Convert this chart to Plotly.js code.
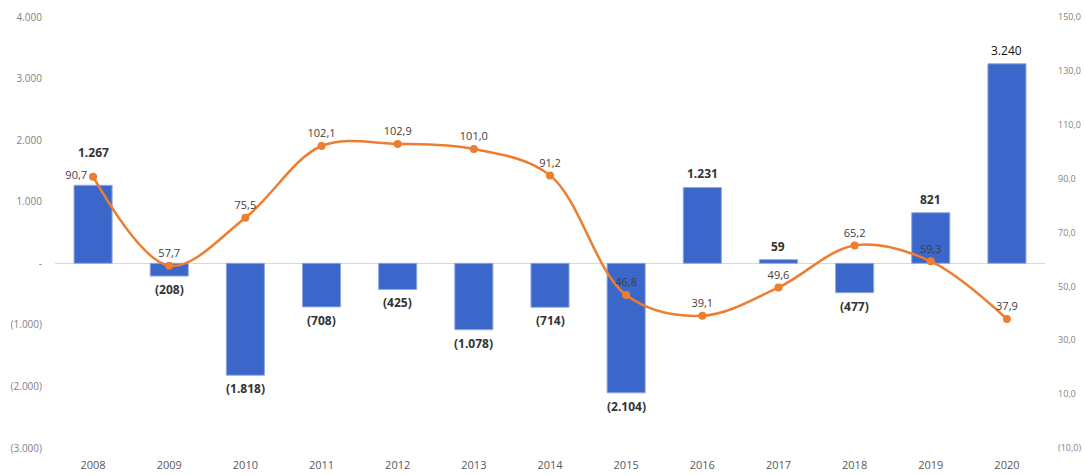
<!DOCTYPE html>
<html><head><meta charset="utf-8">
<script src="https://cdn.plot.ly/plotly-3.0.1.min.js"></script>
<style>html,body{margin:0;padding:0;background:#fff}#chart{width:1085px;height:475px}</style>
</head><body><div id="chart"></div>
<script>
const years = ['2008','2009','2010','2011','2012','2013','2014','2015','2016','2017','2018','2019','2020'];
const barValues = [1267, -208, -1818, -708, -425, -1078, -714, -2104, 1231, 59, -477, 821, 3240];
const lineValues = [90.7, 57.7, 75.5, 102.1, 102.9, 101.0, 91.2, 46.8, 39.1, 49.6, 65.2, 59.3, 37.9];
const leftTicks = [-3000, -2000, -1000, 0, 1000, 2000, 3000, 4000];
const leftTickText = ['(3.000)', '(2.000)', '(1.000)', '-', '1.000', '2.000', '3.000', '4.000'];
const rightTicks = [-10, 10, 30, 50, 70, 90, 110, 130, 150];
const rightTickText = ['(10,0)', '10,0', '30,0', '50,0', '70,0', '90,0', '110,0', '130,0', '150,0'];

function fmtBar(v){
  const s = Math.abs(v).toString().replace(/\B(?=(\d{3})+(?!\d))/g, '.');
  return v < 0 ? '(' + s + ')' : s;
}
const lineText = lineValues.map(v => v.toFixed(1).replace('.', ','));
const linePos = lineValues.map((v,i) => i === 0 ? 'middle left' : 'top center');

const barAnnotations = barValues.map((v,i) => ({
  x: i, y: v, xref: 'x', yref: 'y',
  text: i === barValues.length-1 ? fmtBar(v) : '<b>' + fmtBar(v) + '</b>',
  showarrow: false,
  yanchor: v >= 0 ? 'bottom' : 'top',
  yshift: v >= 0 ? (i === 0 ? 22 : 3) : -3,
  font: {family: 'Open Sans, Arial', size: 12, color: i === barValues.length-1 ? '#111' : '#333'}
}));

const traces = [
  {
    type: 'bar', x: years, y: barValues, yaxis: 'y',
    marker: {color: '#3a67c9', line: {color: '#8fa9e0', width: 1}},
    hoverinfo: 'skip'
  },
  {
    type: 'scatter', mode: 'lines+markers+text', x: years, y: lineValues, yaxis: 'y2',
    line: {color: '#ED7D31', width: 2.5, shape: 'spline', smoothing: 1},
    marker: {color: '#ED7D31', size: 8},
    text: lineText, textposition: linePos, cliponaxis: false,
    textfont: {family: 'Open Sans, Arial', size: 11, color: '#404040'},
    hoverinfo: 'skip'
  }
];

const layout = {
  width: 1085, height: 475,
  margin: {l: 55, r: 40, t: 17, b: 27, autoexpand: false},
  paper_bgcolor: '#fff', plot_bgcolor: '#fff',
  showlegend: false,
  bargap: 0.5,
  font: {family: 'Open Sans, Arial', color: '#7f7f7f'},
  annotations: barAnnotations,
  xaxis: {
    type: 'category', range: [-0.5, years.length - 0.5],
    showgrid: false, zeroline: false, showline: false, ticks: '',
    tickfont: {size: 11, color: '#595959'}, ticklabelstandoff: 9, automargin: false
  },
  yaxis: {
    range: [-3000, 4000], tickvals: leftTicks, ticktext: leftTickText,
    showgrid: false, zeroline: true, zerolinecolor: '#d9d9d9', zerolinewidth: 1,
    showline: false, ticks: '', tickfont: {size: 10, color: '#7f7f7f'}, ticklabelstandoff: 12, automargin: false
  },
  yaxis2: {
    overlaying: 'y', side: 'right', range: [-10, 150],
    tickvals: rightTicks, ticktext: rightTickText,
    showgrid: false, zeroline: false, showline: false, ticks: '',
    tickfont: {size: 9, color: '#7f7f7f'}, ticklabelstandoff: 12, automargin: false
  }
};

Plotly.newPlot('chart', traces, layout, {displayModeBar: false, staticPlot: true});
</script>
</body></html>
